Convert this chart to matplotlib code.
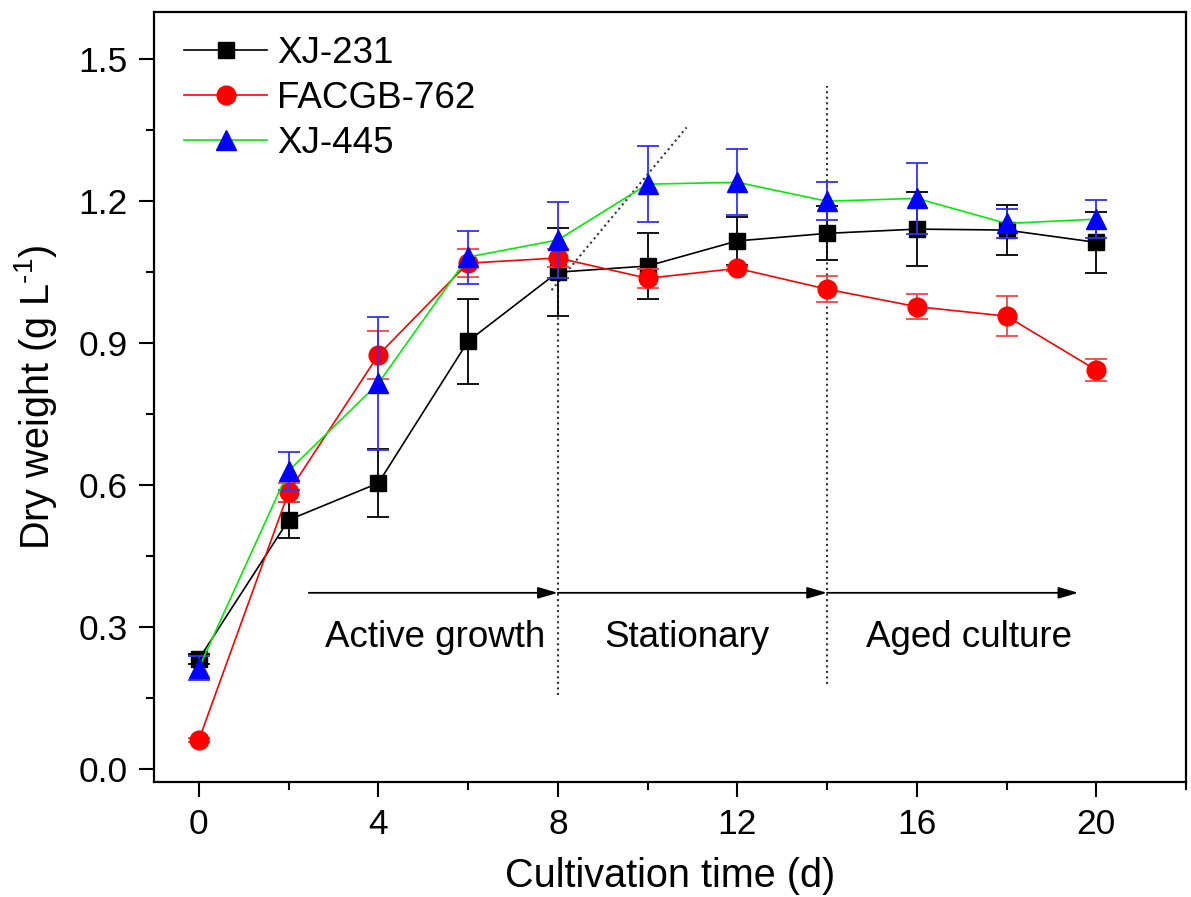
"""Dry weight of three strains over the cultivation time."""

import matplotlib
matplotlib.use('Agg')
import matplotlib.pyplot as plt
from matplotlib.ticker import MultipleLocator, FormatStrFormatter


plt.rcParams['font.family'] = ['Liberation Sans', 'DejaVu Sans']
plt.rcParams['mathtext.fontset'] = 'custom'
plt.rcParams['mathtext.rm'] = 'Liberation Sans'
plt.rcParams['mathtext.it'] = 'Liberation Sans'

# Data
days = [0, 2, 4, 6, 8, 10, 12, 14, 16, 18, 20]
strains = ['XJ-231', 'FACGB-762', 'XJ-445']
xj231 = [0.232, 0.526, 0.604, 0.904, 1.050, 1.063, 1.116, 1.132, 1.141, 1.139, 1.113]
xj231_err = [0.010, 0.038, 0.072, 0.090, 0.093, 0.070, 0.050, 0.057, 0.078, 0.052, 0.065]
facgb762 = [0.061, 0.585, 0.875, 1.069, 1.080, 1.037, 1.058, 1.014, 0.977, 0.957, 0.843]
facgb762_err = [0.005, 0.020, 0.050, 0.030, 0.020, 0.020, 0.005, 0.028, 0.026, 0.042, 0.023]
xj445 = [0.213, 0.630, 0.815, 1.082, 1.118, 1.236, 1.240, 1.200, 1.206, 1.153, 1.162]
xj445_err = [0.025, 0.040, 0.140, 0.056, 0.080, 0.080, 0.070, 0.040, 0.075, 0.030, 0.040]

phases = ['Active growth', 'Stationary', 'Aged culture']
phase_text_x = [5.26, 10.87, 17.16]
phase_arrow_start = [2.45, 8.0, 14.0]
phase_arrow_end = [8.0, 14.0, 19.6]

fig = plt.figure(figsize=(11.91, 8.97), dpi=100)
ax = fig.add_axes([0.1293, 0.1282, 0.8665, 0.8584])

# (values, errors, line colour, marker, marker colour, error colour, size)
series = [
    (xj231, xj231_err, 'black', 's', 'black', 'black', 11.5),
    (facgb762, facgb762_err, '#ff0000', 'o', '#ff0000', '#ff4040', 13.5),
    (xj445, xj445_err, '#00ee00', '^', '#0000ff', '#3030ff', 15),
]

handles = []
for name, (vals, errs, lc, mk, mc, ec, ms) in zip(strains, series):
    ax.errorbar(days, vals, yerr=errs, fmt='none', ecolor=ec,
                elinewidth=1.3, capsize=8, capthick=1.3)
    line, = ax.plot(days, vals, color=lc, lw=1.2, marker=mk, ms=ms,
                    mfc=mc, mec=mc, label=name)
    handles.append(line)

# Phase boundaries
ax.plot([8, 8], [0.155, 1.05], ls=':', color='#333333', lw=1.5, zorder=1)
ax.plot([14, 14], [0.18, 1.443], ls=':', color='#333333', lw=1.5, zorder=1)
ax.plot([7.86, 10.87], [1.012, 1.356], ls=':', color='#333333', lw=1.5, zorder=1)

# Phase arrows and labels
for name, tx, x0, x1 in zip(phases, phase_text_x, phase_arrow_start, phase_arrow_end):
    ax.annotate('', xy=(x1, 0.372), xytext=(x0, 0.372),
                arrowprops=dict(arrowstyle='-|>,head_length=1.2,head_width=0.35',
                                color='black', lw=1.3, shrinkA=0, shrinkB=0))
    ax.text(tx, 0.257, name, fontsize=26.5, ha='center', va='baseline')

ax.set_xlim(-1, 22)
ax.set_ylim(-0.028, 1.6)
ax.xaxis.set_major_locator(MultipleLocator(4))
ax.xaxis.set_minor_locator(MultipleLocator(2))
ax.yaxis.set_major_locator(MultipleLocator(0.3))
ax.yaxis.set_minor_locator(MultipleLocator(0.15))
ax.yaxis.set_major_formatter(FormatStrFormatter('%.1f'))

ax.tick_params(which='major', direction='out', length=11, width=1.5,
               labelsize=25.5, pad=8)
ax.tick_params(which='minor', direction='out', length=6, width=1.5)
ax.tick_params(top=False, right=False)
for sp in ax.spines.values():
    sp.set_linewidth(1.6)

ax.set_xlabel('Cultivation time (d)', fontsize=28.5, labelpad=11)
ax.set_ylabel(r'Dry weight (g L$^{\text{-}1}$)', fontsize=28.5, labelpad=14)

ax.legend(handles=handles, loc='upper left', bbox_to_anchor=(0.0148, 0.988),
          frameon=False, fontsize=26.5, numpoints=1, handlelength=2.26,
          handletextpad=0.27, labelspacing=0.27, borderaxespad=0)

fig.savefig('out.png', dpi=100)
